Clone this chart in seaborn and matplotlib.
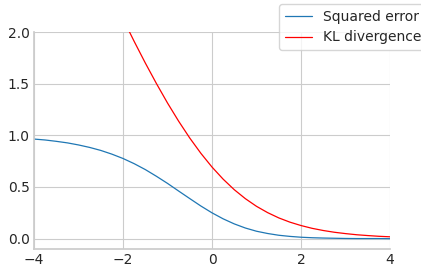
import matplotlib
matplotlib.use("Agg")
import matplotlib.pyplot as plt
import seaborn as sns
import pandas as pd

x_sq = [-4.0, -3.75, -3.5, -3.25, -3.0, -2.75, -2.5, -2.25, -2.0, -1.75, -1.5, -1.25,
        -1.0, -0.75, -0.5, -0.25, 0.0, 0.25, 0.5, 0.75, 1.0, 1.25, 1.5, 1.75,
        2.0, 2.25, 2.5, 2.75, 3.0, 3.25, 3.5, 3.75, 4.0]
squared_error = [0.964, 0.955, 0.942, 0.927, 0.907, 0.883, 0.854, 0.818, 0.776, 0.726,
                 0.669, 0.604, 0.535, 0.461, 0.388, 0.316, 0.250, 0.192, 0.143, 0.103,
                 0.072, 0.050, 0.033, 0.022, 0.014, 0.009, 0.006, 0.004, 0.002, 0.001,
                 0.001, 0.001, 0.000]

x_kl = [-2.0, -1.75, -1.5, -1.25, -1.0, -0.75, -0.5, -0.25, 0.0, 0.25, 0.5, 0.75,
        1.0, 1.25, 1.5, 1.75, 2.0, 2.25, 2.5, 2.75, 3.0, 3.25, 3.5, 3.75, 4.0]
kl_divergence = [2.127, 1.910, 1.701, 1.502, 1.313, 1.137, 0.974, 0.826, 0.693, 0.576,
                 0.474, 0.387, 0.313, 0.252, 0.201, 0.160, 0.127, 0.100, 0.079, 0.062,
                 0.049, 0.038, 0.030, 0.023, 0.018]

labels = ["Squared error", "KL divergence"]

sns.set_theme(style="whitegrid")
plt.rcParams["font.family"] = ["DejaVu Sans"]

fig = plt.figure(figsize=(4.21, 2.68), dpi=100)
ax = fig.add_axes([34/421, 1 - 249/268, (390-34)/421, (249-32)/268])

df1 = pd.DataFrame({"x": x_sq, "y": squared_error})
df2 = pd.DataFrame({"x": x_kl, "y": kl_divergence})
sns.lineplot(data=df1, x="x", y="y", ax=ax, color="#1f77b4", linewidth=0.9, label=labels[0])
sns.lineplot(data=df2, x="x", y="y", ax=ax, color="red", linewidth=0.9, label=labels[1])

ax.set_xlim(-4, 4)
ax.set_ylim(-0.1, 2.0)
ax.set_xticks([-4, -2, 0, 2, 4])
ax.set_yticks([0.0, 0.5, 1.0, 1.5, 2.0])
ax.set_xlabel("")
ax.set_ylabel("")
ax.tick_params(labelsize=10, colors="#262626", length=0, pad=3)
for s in ["top", "right"]:
    ax.spines[s].set_visible(False)
for s in ["left", "bottom"]:
    ax.spines[s].set_color("#cccccc")
ax.grid(True, color="#cccccc", linewidth=0.8)

ax.legend(loc="upper left", bbox_to_anchor=(279/421, 1 - 4/268), bbox_transform=fig.transFigure,
          borderaxespad=0, fontsize=10, frameon=True, handlelength=2.0)

fig.savefig("out.png", dpi=100)
